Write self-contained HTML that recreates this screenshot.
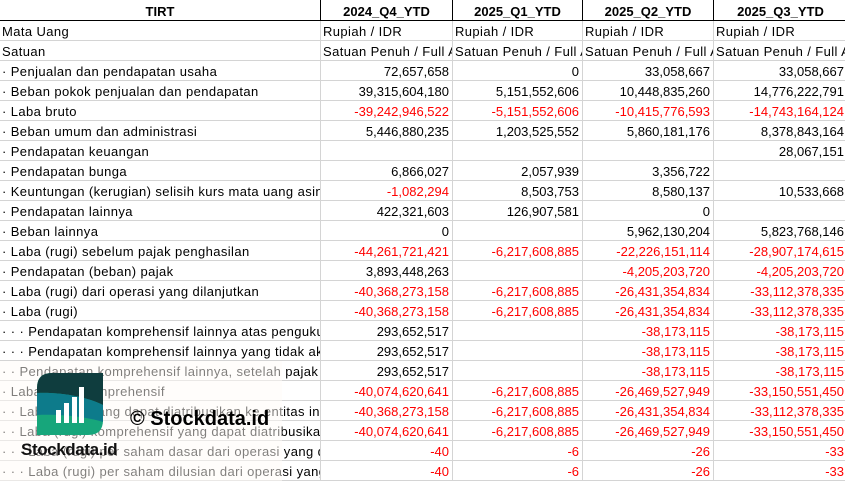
<!DOCTYPE html>
<html><head><meta charset="utf-8">
<style>
html,body{margin:0;padding:0;background:#fff;}
body{width:845px;height:481px;overflow:hidden;position:relative;font-family:"Liberation Sans",Arial,sans-serif;font-size:13px;color:#000;}
.t{position:absolute;left:0;top:0;width:848px;}
.r{display:flex;height:20px;box-sizing:border-box;border-bottom:1px solid #d4d4d4;}
.r>div{box-sizing:border-box;height:19px;border-right:1px solid #d4d4d4;white-space:nowrap;overflow:hidden;padding:3px 3px 0 2px;line-height:16px;letter-spacing:0.4px;}
.r>div:nth-child(1){width:321px;}
.r>div:nth-child(2){width:132px;}
.r>div:nth-child(3){width:130px;}
.r>div:nth-child(4){width:131px;}
.r>div:nth-child(5){width:134px;}
.r>div.n{text-align:right;letter-spacing:0;}
.neg{color:#ff0000;}
.h{height:21px;border-bottom:1px solid #000;}
.h>div{height:20px;font-weight:bold;text-align:center;border-right:1px solid #000 !important;line-height:17px;padding:3px 0 0 0 !important;letter-spacing:0 !important;}
.ov{position:absolute;left:0;top:361px;width:282px;height:120px;background:rgba(255,252,248,0.5);}
.logo{position:absolute;left:37px;top:373px;}
.wt1{position:absolute;left:21px;top:440px;font-weight:bold;font-size:17px;letter-spacing:-0.4px;color:#111;line-height:20px;}
.wt2{position:absolute;left:130px;top:408px;font-weight:bold;font-size:20px;color:#000;line-height:22px;}
</style></head><body>
<div class="t">
<div class="r h"><div>TIRT</div><div>2024_Q4_YTD</div><div>2025_Q1_YTD</div><div>2025_Q2_YTD</div><div>2025_Q3_YTD</div></div>
<div class="r"><div>Mata Uang</div><div>Rupiah / IDR</div><div>Rupiah / IDR</div><div>Rupiah / IDR</div><div>Rupiah / IDR</div></div>
<div class="r"><div>Satuan</div><div>Satuan Penuh / Full Amount</div><div>Satuan Penuh / Full Amount</div><div>Satuan Penuh / Full Amount</div><div>Satuan Penuh / Full Amount</div></div>
<div class="r"><div>· Penjualan dan pendapatan usaha</div><div class="n">72,657,658</div><div class="n">0</div><div class="n">33,058,667</div><div class="n">33,058,667</div></div>
<div class="r"><div>· Beban pokok penjualan dan pendapatan</div><div class="n">39,315,604,180</div><div class="n">5,151,552,606</div><div class="n">10,448,835,260</div><div class="n">14,776,222,791</div></div>
<div class="r"><div>· Laba bruto</div><div class="n neg">-39,242,946,522</div><div class="n neg">-5,151,552,606</div><div class="n neg">-10,415,776,593</div><div class="n neg">-14,743,164,124</div></div>
<div class="r"><div>· Beban umum dan administrasi</div><div class="n">5,446,880,235</div><div class="n">1,203,525,552</div><div class="n">5,860,181,176</div><div class="n">8,378,843,164</div></div>
<div class="r"><div>· Pendapatan keuangan</div><div class="n"></div><div class="n"></div><div class="n"></div><div class="n">28,067,151</div></div>
<div class="r"><div>· Pendapatan bunga</div><div class="n">6,866,027</div><div class="n">2,057,939</div><div class="n">3,356,722</div><div class="n"></div></div>
<div class="r"><div>· Keuntungan (kerugian) selisih kurs mata uang asing</div><div class="n neg">-1,082,294</div><div class="n">8,503,753</div><div class="n">8,580,137</div><div class="n">10,533,668</div></div>
<div class="r"><div>· Pendapatan lainnya</div><div class="n">422,321,603</div><div class="n">126,907,581</div><div class="n">0</div><div class="n"></div></div>
<div class="r"><div>· Beban lainnya</div><div class="n">0</div><div class="n"></div><div class="n">5,962,130,204</div><div class="n">5,823,768,146</div></div>
<div class="r"><div>· Laba (rugi) sebelum pajak penghasilan</div><div class="n neg">-44,261,721,421</div><div class="n neg">-6,217,608,885</div><div class="n neg">-22,226,151,114</div><div class="n neg">-28,907,174,615</div></div>
<div class="r"><div>· Pendapatan (beban) pajak</div><div class="n">3,893,448,263</div><div class="n"></div><div class="n neg">-4,205,203,720</div><div class="n neg">-4,205,203,720</div></div>
<div class="r"><div>· Laba (rugi) dari operasi yang dilanjutkan</div><div class="n neg">-40,368,273,158</div><div class="n neg">-6,217,608,885</div><div class="n neg">-26,431,354,834</div><div class="n neg">-33,112,378,335</div></div>
<div class="r"><div>· Laba (rugi)</div><div class="n neg">-40,368,273,158</div><div class="n neg">-6,217,608,885</div><div class="n neg">-26,431,354,834</div><div class="n neg">-33,112,378,335</div></div>
<div class="r"><div>· · · Pendapatan komprehensif lainnya atas pengukuran kembali</div><div class="n">293,652,517</div><div class="n"></div><div class="n neg">-38,173,115</div><div class="n neg">-38,173,115</div></div>
<div class="r"><div>· · · Pendapatan komprehensif lainnya yang tidak akan direklasifikasi</div><div class="n">293,652,517</div><div class="n"></div><div class="n neg">-38,173,115</div><div class="n neg">-38,173,115</div></div>
<div class="r"><div>· · Pendapatan komprehensif lainnya, setelah pajak</div><div class="n">293,652,517</div><div class="n"></div><div class="n neg">-38,173,115</div><div class="n neg">-38,173,115</div></div>
<div class="r"><div>· Laba (rugi) komprehensif</div><div class="n neg">-40,074,620,641</div><div class="n neg">-6,217,608,885</div><div class="n neg">-26,469,527,949</div><div class="n neg">-33,150,551,450</div></div>
<div class="r"><div>· · Laba (rugi) yang dapat diatribusikan ke entitas induk</div><div class="n neg">-40,368,273,158</div><div class="n neg">-6,217,608,885</div><div class="n neg">-26,431,354,834</div><div class="n neg">-33,112,378,335</div></div>
<div class="r"><div>· · Laba (rugi) komprehensif yang dapat diatribusikan ke entitas induk</div><div class="n neg">-40,074,620,641</div><div class="n neg">-6,217,608,885</div><div class="n neg">-26,469,527,949</div><div class="n neg">-33,150,551,450</div></div>
<div class="r"><div>· · · Laba (rugi) per saham dasar dari operasi yang dilanjutkan</div><div class="n neg">-40</div><div class="n neg">-6</div><div class="n neg">-26</div><div class="n neg">-33</div></div>
<div class="r"><div>· · · Laba (rugi) per saham dilusian dari operasi yang dilanjutkan</div><div class="n neg">-40</div><div class="n neg">-6</div><div class="n neg">-26</div><div class="n neg">-33</div></div>
</div>
<div class="ov"></div>
<svg class="logo" width="66" height="63" viewBox="0 0 66 63">
<defs><clipPath id="c"><path d="M15,0 H66 V47 Q66,62 51,62 H0 V15 Q0,0 15,0 Z"/></clipPath></defs>
<g clip-path="url(#c)">
<rect x="0" y="0" width="66" height="63" fill="#17a67b"/>
<path d="M0,0 H66 V32 C50,24 25,19 0,20 Z" fill="#0f3d3e"/>
<path d="M0,20 C25,19 50,24 66,32 V49 C50,44 25,41 0,42 Z" fill="#0d7b8b"/>
</g>
<rect x="19" y="37" width="5" height="13" fill="#fff"/>
<rect x="27" y="30" width="5" height="20" fill="#fff"/>
<rect x="35" y="24" width="5" height="26" fill="#fff"/>
<rect x="42" y="14" width="5" height="36" fill="#fff"/>
</svg>
<div class="wt1">Stockdata.id</div>
<div class="wt2">© Stockdata.id</div>
</body></html>
